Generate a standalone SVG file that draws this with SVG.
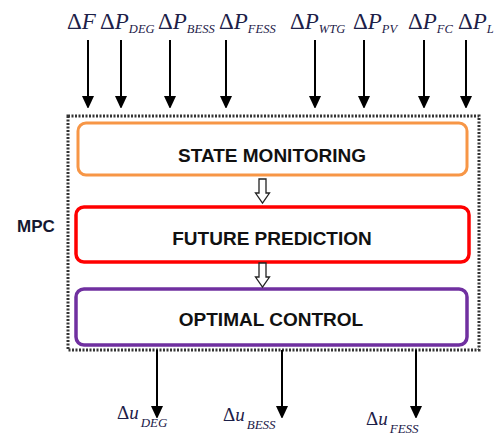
<svg xmlns="http://www.w3.org/2000/svg" width="495" height="435" viewBox="0 0 495 435">
<style>
.m{font-family:"Liberation Serif","Times New Roman",serif;font-style:italic;fill:#1c2048}
.d{font-style:normal}
.big{font-size:23px}
.sub{font-size:12.5px}
.ub{font-size:19px}
.us{font-size:13px}
.bt{font-family:"Liberation Sans",Arial,sans-serif;font-weight:bold;font-size:19px;fill:#111;text-anchor:middle}
.ln{stroke:#000;stroke-width:2;fill:none}
.hol{fill:#fff;stroke:#222;stroke-width:1.3}
</style>
<defs>
<marker id="ah" viewBox="0 0 12 13" refX="11" refY="6" markerWidth="12" markerHeight="13" markerUnits="userSpaceOnUse" orient="auto">
<path d="M0,0 L13,6 L0,12 Z" fill="#000"/>
</marker>
</defs>
<rect width="495" height="435" fill="#fff"/>

<g id="mpc">
<rect x="68" y="116" width="411" height="234" fill="none" stroke="#333" stroke-width="3" stroke-dasharray="2 1.5"/>
<text x="17" y="232" font-family="Liberation Sans,Arial,sans-serif" font-weight="bold" font-size="17" fill="#141830">MPC</text>
</g>

<g id="state-monitoring">
<rect x="78" y="123" width="389" height="52" rx="8" fill="#fff" stroke="#f79646" stroke-width="3"/>
<text class="bt" x="272" y="162">STATE MONITORING</text>
</g>
<g id="future-prediction">
<rect x="76" y="207" width="393" height="55" rx="8" fill="#fff" stroke="#ff0000" stroke-width="3.5"/>
<text class="bt" x="272" y="245">FUTURE PREDICTION</text>
</g>
<g id="optimal-control">
<rect x="76" y="289" width="391" height="56" rx="8" fill="#fff" stroke="#7030a0" stroke-width="3.5"/>
<text class="bt" x="271" y="326">OPTIMAL CONTROL</text>
</g>

<g id="connectors">
<line class="ln" x1="88" y1="40" x2="88" y2="107" marker-end="url(#ah)"/>
<line class="ln" x1="121" y1="40" x2="121" y2="107" marker-end="url(#ah)"/>
<line class="ln" x1="170" y1="40" x2="170" y2="107" marker-end="url(#ah)"/>
<line class="ln" x1="226" y1="40" x2="226" y2="107" marker-end="url(#ah)"/>
<line class="ln" x1="315" y1="40" x2="315" y2="107" marker-end="url(#ah)"/>
<line class="ln" x1="364" y1="40" x2="364" y2="107" marker-end="url(#ah)"/>
<line class="ln" x1="424" y1="40" x2="424" y2="107" marker-end="url(#ah)"/>
<line class="ln" x1="466" y1="40" x2="466" y2="107" marker-end="url(#ah)"/>
<line class="ln" x1="157" y1="350" x2="157" y2="417" marker-end="url(#ah)"/>
<line class="ln" x1="282" y1="350" x2="282" y2="417" marker-end="url(#ah)"/>
<line class="ln" x1="416" y1="350" x2="416" y2="417" marker-end="url(#ah)"/>
<path class="hol" d="M259,179 H266 V193 H269.5 L262.5,203 L255.5,193 H259 Z"/>
<path class="hol" d="M259,263 H266 V277 H269.5 L262.5,287 L255.5,277 H259 Z"/>
</g>

<g id="inputs">
<text class="m big" x="67" y="29"><tspan class="d">Δ</tspan>F</text>
<text class="m big" x="100" y="29"><tspan class="d">Δ</tspan>P<tspan class="sub" dy="4">DEG</tspan></text>
<text class="m big" x="158" y="29"><tspan class="d">Δ</tspan>P<tspan class="sub" dy="4">BESS</tspan></text>
<text class="m big" x="219" y="29"><tspan class="d">Δ</tspan>P<tspan class="sub" dy="4">FESS</tspan></text>
<text class="m big" x="290" y="29"><tspan class="d">Δ</tspan>P<tspan class="sub" dy="4">WTG</tspan></text>
<text class="m big" x="353" y="29"><tspan class="d">Δ</tspan>P<tspan class="sub" dy="4">PV</tspan></text>
<text class="m big" x="408" y="29"><tspan class="d">Δ</tspan>P<tspan class="sub" dy="4">FC</tspan></text>
<text class="m big" x="458" y="29"><tspan class="d">Δ</tspan>P<tspan class="sub" dy="4">L</tspan></text>
</g>

<g id="outputs">
<text class="m ub" x="117" y="419"><tspan class="d">Δ</tspan>u<tspan class="us" dx="2" dy="8">DEG</tspan></text>
<text class="m ub" x="223" y="421"><tspan class="d">Δ</tspan>u<tspan class="us" dx="2" dy="8">BESS</tspan></text>
<text class="m ub" x="366" y="425"><tspan class="d">Δ</tspan>u<tspan class="us" dx="2" dy="8">FESS</tspan></text>
</g>
</svg>
